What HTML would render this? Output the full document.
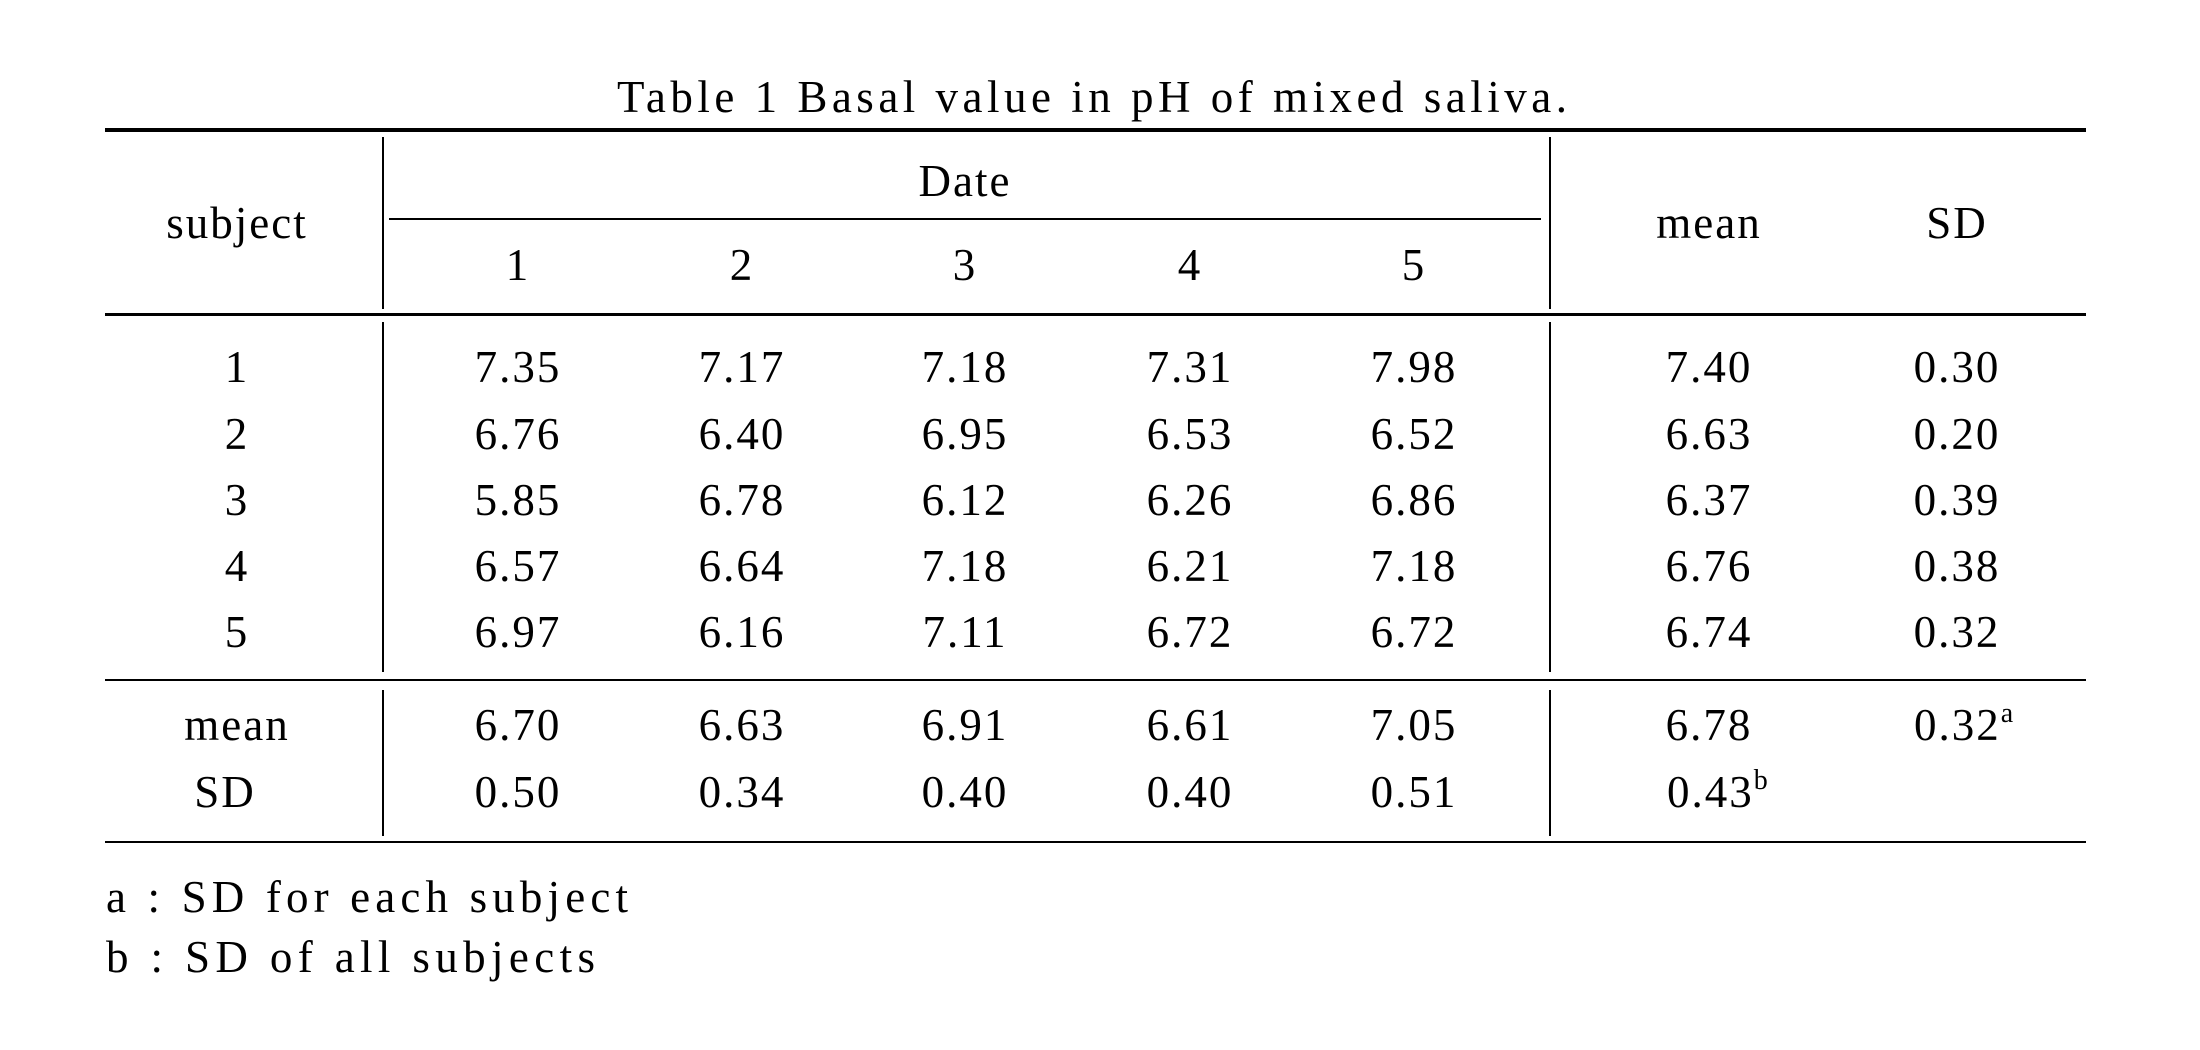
<!DOCTYPE html>
<html><head><meta charset="utf-8"><style>
html,body{margin:0;padding:0;background:#fff;}
svg{display:block;}
text{font-family:"Liberation Serif",serif;font-size:45px;fill:#000;}
</style></head><body>
<svg width="2200" height="1050" viewBox="0 0 2200 1050" xmlns="http://www.w3.org/2000/svg">
<text x="617" y="112" textLength="950" lengthAdjust="spacing">Table 1  Basal value in pH of mixed saliva.</text>
<rect x="105" y="128" width="1981" height="4"/>
<rect x="382" y="137" width="2" height="172"/>
<rect x="1549" y="137" width="2" height="172"/>
<rect x="389" y="218" width="1152" height="2"/>
<rect x="105" y="313" width="1981" height="3"/>
<rect x="382" y="322" width="2" height="350"/>
<rect x="1549" y="322" width="2" height="350"/>
<rect x="105" y="679" width="1981" height="2"/>
<rect x="382" y="690" width="2" height="146"/>
<rect x="1549" y="690" width="2" height="146"/>
<rect x="105" y="841" width="1981" height="2"/>
<g text-anchor="middle" letter-spacing="2">
<text x="965" y="196">Date</text>
<text x="237" y="238">subject</text>
<text x="1709" y="238">mean</text>
<text x="1957" y="238">SD</text>
<text x="518" y="280">1</text><text x="742" y="280">2</text><text x="965" y="280">3</text><text x="1190" y="280">4</text><text x="1414" y="280">5</text>

<text x="237" y="382">1</text><text x="518" y="382">7.35</text><text x="742" y="382">7.17</text><text x="965" y="382">7.18</text><text x="1190" y="382">7.31</text><text x="1414" y="382">7.98</text><text x="1709" y="382">7.40</text><text x="1957" y="382">0.30</text>
<text x="237" y="449">2</text><text x="518" y="449">6.76</text><text x="742" y="449">6.40</text><text x="965" y="449">6.95</text><text x="1190" y="449">6.53</text><text x="1414" y="449">6.52</text><text x="1709" y="449">6.63</text><text x="1957" y="449">0.20</text>
<text x="237" y="515">3</text><text x="518" y="515">5.85</text><text x="742" y="515">6.78</text><text x="965" y="515">6.12</text><text x="1190" y="515">6.26</text><text x="1414" y="515">6.86</text><text x="1709" y="515">6.37</text><text x="1957" y="515">0.39</text>
<text x="237" y="581">4</text><text x="518" y="581">6.57</text><text x="742" y="581">6.64</text><text x="965" y="581">7.18</text><text x="1190" y="581">6.21</text><text x="1414" y="581">7.18</text><text x="1709" y="581">6.76</text><text x="1957" y="581">0.38</text>
<text x="237" y="647">5</text><text x="518" y="647">6.97</text><text x="742" y="647">6.16</text><text x="965" y="647">7.11</text><text x="1190" y="647">6.72</text><text x="1414" y="647">6.72</text><text x="1709" y="647">6.74</text><text x="1957" y="647">0.32</text>

<text x="237" y="740">mean</text><text x="518" y="740">6.70</text><text x="742" y="740">6.63</text><text x="965" y="740">6.91</text><text x="1190" y="740">6.61</text><text x="1414" y="740">7.05</text><text x="1709" y="740">6.78</text>
<text x="225" y="807">SD</text><text x="518" y="807">0.50</text><text x="742" y="807">0.34</text><text x="965" y="807">0.40</text><text x="1190" y="807">0.40</text><text x="1414" y="807">0.51</text>
</g>
<text x="1914" y="740" letter-spacing="2">0.32<tspan font-size="28" dy="-18">a</tspan></text>
<text x="1667" y="807" letter-spacing="2">0.43<tspan font-size="28" dy="-18">b</tspan></text>
<text x="106" y="912" textLength="522" lengthAdjust="spacing">a : SD for each subject</text>
<text x="106" y="972" textLength="489" lengthAdjust="spacing">b : SD of all subjects</text>
</svg>
</body></html>
